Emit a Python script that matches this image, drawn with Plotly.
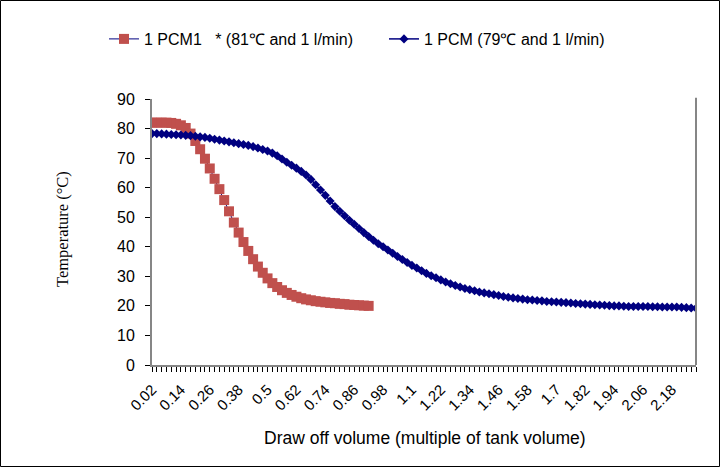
import plotly.graph_objects as go

# Draw-off volume categories (multiple of tank volume), step 0.02
volume_blue = [round(0.02 * (i + 1), 2) for i in range(114)]   # 0.02 .. 2.28
volume_red = volume_blue[:46]                                   # 0.02 .. 0.92

temp_red = [82.0, 82.0, 82.0, 82.0, 81.9, 81.6, 81.1, 80.2, 78.3, 75.8,
            73.0, 69.8, 66.5, 63.0, 59.5, 55.8, 52.0, 48.2, 44.8, 41.6,
            38.6, 35.8, 33.3, 31.2, 29.3, 27.7, 26.4, 25.3, 24.4, 23.7,
            23.1, 22.6, 22.2, 21.9, 21.6, 21.4, 21.2, 21.0, 20.9, 20.7,
            20.6, 20.4, 20.3, 20.2, 20.1, 20.0]

temp_blue = [78.3, 78.3, 78.2, 78.1, 78.0, 77.9, 77.8, 77.7, 77.6, 77.4,
             77.2, 77.0, 76.7, 76.4, 76.1, 75.8, 75.5, 75.2, 74.9, 74.6,
             74.3, 73.9, 73.4, 72.9, 72.4, 71.7, 70.8, 69.7, 68.6, 67.6,
             66.6, 65.5, 64.3, 62.8, 61.0, 59.2, 57.4, 55.5, 53.6, 52.0,
             50.5, 49.0, 47.6, 46.2, 44.8, 43.5, 42.2, 41.0, 40.0, 38.9,
             37.8, 36.7, 35.7, 34.7, 33.7, 32.8, 31.9, 31.0, 30.2, 29.5,
             28.8, 28.1, 27.5, 26.9, 26.4, 25.9, 25.5, 25.1, 24.7, 24.4,
             24.1, 23.8, 23.5, 23.2, 22.9, 22.7, 22.5, 22.3, 22.1, 22.0,
             21.8, 21.7, 21.5, 21.4, 21.3, 21.2, 21.1, 21.0, 20.8, 20.7,
             20.6, 20.5, 20.4, 20.3, 20.2, 20.1, 20.0, 20.0, 19.9, 19.8,
             19.8, 19.8, 19.8, 19.8, 19.7, 19.7, 19.6, 19.6, 19.6, 19.6,
             19.5, 19.4, 19.3, 19.2]

tick_labels = ["0.02", "0.14", "0.26", "0.38", "0.5", "0.62", "0.74", "0.86",
               "0.98", "1.1", "1.22", "1.34", "1.46", "1.58", "1.7", "1.82",
               "1.94", "2.06", "2.18"]
tick_values = [float(t) for t in tick_labels]
y_ticks = [0, 10, 20, 30, 40, 50, 60, 70, 80, 90]

name_red = "1 PCM1   * (81\u2103 and 1 l/min)"
name_blue = "1 PCM (79\u2103 and 1 l/min)"

NAVY = "#000080"
RED = "#C0504D"
SANS = "Arial, Liberation Sans, sans-serif"
SERIF = "Times New Roman, Liberation Serif, serif"

fig = go.Figure()
fig.add_trace(go.Scatter(
    x=volume_red, y=temp_red, name=name_red, mode="lines+markers",
    line=dict(color=NAVY, width=1),
    marker=dict(symbol="square", size=10, color=RED),
    legend="legend"))
fig.add_trace(go.Scatter(
    x=volume_blue, y=temp_blue, name=name_blue, mode="lines+markers",
    line=dict(color=NAVY, width=1.5),
    marker=dict(symbol="diamond", size=7, color=NAVY),
    legend="legend2"))

L, R, T, B = 152, 696, 99, 365
W, H = R - L, B - T
FW, FH = 721, 468

def px(x):
    return (x - L) / W

def py(y):
    return (B - y) / H

fig.update_layout(
    width=FW, height=FH,
    margin=dict(l=L, r=FW - R, t=T, b=FH - B),
    paper_bgcolor="white", plot_bgcolor="white",
    font=dict(family=SANS, size=16, color="black"),
    showlegend=True,
    legend=dict(x=px(104), y=py(22), xanchor="left", yanchor="top",
                orientation="h", font=dict(size=16, family=SANS),
                bgcolor="rgba(0,0,0,0)", itemwidth=30),
    legend2=dict(x=px(384), y=py(22), xanchor="left", yanchor="top",
                 orientation="h", font=dict(size=16, family=SANS),
                 bgcolor="rgba(0,0,0,0)", itemwidth=30),
    xaxis=dict(range=[0.02, 2.28], tickvals=tick_values, ticktext=tick_labels,
               tickangle=-45, ticks="outside", ticklen=5, tickcolor="black",
               showline=True, linecolor="#868686", linewidth=2,
               showgrid=False, zeroline=False, ticklabelstandoff=3,
               tickfont=dict(size=15, family=SANS),
               minor=dict(dtick=0.02, tick0=0.02, ticks="outside", ticklen=5,
                          tickcolor="black", showgrid=False)),
    yaxis=dict(range=[0, 90], tickvals=y_ticks, ticks="outside", ticklen=5,
               tickcolor="black", showline=True, linecolor="#868686",
               linewidth=2, showgrid=False, zeroline=False,
               ticklabelstandoff=7,
               tickfont=dict(size=16, family=SANS)),
    shapes=[
        dict(type="line", xref="paper", yref="paper", x0=1, x1=1, y0=0, y1=1.005,
             line=dict(color="#868686", width=2)),
        dict(type="rect", xref="paper", yref="paper",
             x0=px(0.5), x1=px(FW - 1.5), y0=py(FH - 1.5), y1=py(0.5),
             line=dict(color="black", width=1)),
    ],
    annotations=[
        dict(text="Draw off volume (multiple of tank volume)", xref="paper",
             yref="paper", x=px(425), y=py(438), showarrow=False,
             xanchor="center", yanchor="middle",
             font=dict(size=17.5, family=SANS)),
        dict(text="Temperature (\u00b0C)", xref="paper", yref="paper",
             x=px(62), y=py(229), showarrow=False, textangle=-90,
             xanchor="center", yanchor="middle",
             font=dict(size=16.5, family=SERIF)),
    ],
)

fig.write_html("out.html")
